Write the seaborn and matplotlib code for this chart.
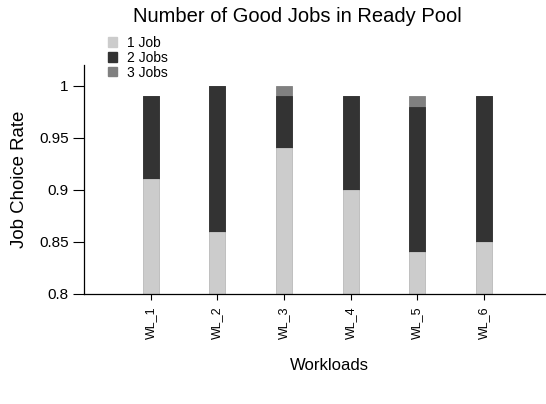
import matplotlib
matplotlib.use("Agg")
import matplotlib.pyplot as plt
from matplotlib.patches import Patch
import seaborn as sns
import pandas as pd

# Job choice rate per workload, split by number of good jobs in the ready pool
workloads = ["WL_1", "WL_2", "WL_3", "WL_4", "WL_5", "WL_6"]
one_job = [0.91, 0.86, 0.94, 0.90, 0.84, 0.85]
two_jobs = [0.08, 0.14, 0.05, 0.09, 0.14, 0.14]
three_jobs = [0.00, 0.00, 0.01, 0.00, 0.01, 0.00]

series_names = ["1 Job", "2 Jobs", "3 Jobs"]
colors = ["#cccccc", "#333333", "#808080"]
ytick_values = [0.8, 0.85, 0.9, 0.95, 1.0]
ytick_labels = ["0.8", "0.85", "0.9", "0.95", "1"]

sns.set_theme(style="ticks")
plt.rcParams["font.family"] = ["Liberation Sans", "DejaVu Sans"]
plt.rcParams.update({
    "text.color": "black",
    "axes.labelcolor": "black",
    "xtick.color": "black",
    "ytick.color": "black",
})

df = pd.DataFrame({
    "workload": workloads,
    "one": one_job,
    "two": two_jobs,
    "three": three_jobs,
})
df["top1"] = df["one"]
df["top2"] = df["one"] + df["two"]
df["top3"] = df["top2"] + df["three"]

fig = plt.figure(figsize=(5.46, 4.04), dpi=100)
ax = fig.add_axes([0.1538, 0.2723, 0.8462, 0.567])

# stacked bars: draw cumulative totals from the top segment down
for col, color in zip(["top3", "top2", "top1"], colors[::-1]):
    sns.barplot(data=df, x="workload", y=col, color=color, width=0.24,
                saturation=1, ax=ax, edgecolor=color, linewidth=0.6)

ax.set_ylim(0.8, 1.02)
ax.set_xlim(-1.0, 5.93)
ax.set_yticks(ytick_values)
ax.set_yticklabels(ytick_labels)
ax.tick_params(axis="y", labelsize=11, length=8, width=0.8, color="black",
               labelcolor="black", pad=3)
ax.tick_params(axis="x", labelsize=9, length=4, width=0.8, color="black",
               labelcolor="black", labelrotation=90, pad=5)
sns.despine(ax=ax, top=True, right=True)
for s in ["left", "bottom"]:
    ax.spines[s].set_color("black")
    ax.spines[s].set_linewidth(0.9)

ax.set_xlabel("")
ax.set_ylabel("Job Choice Rate", fontsize=13.4, color="black")
ax.yaxis.set_label_coords(-0.122, 0.5)
fig.text(0.604, 1 - 365 / 404, "Workloads", fontsize=12, ha="center", va="center",
         color="black")
fig.text(0.544, 1 - 16 / 404, "Number of Good Jobs in Ready Pool", fontsize=14.5,
         ha="center", va="center", color="black")

handles = [Patch(facecolor=c, edgecolor=c, label=n) for n, c in zip(series_names, colors)]
leg = fig.legend(handles=handles, loc="upper left", bbox_to_anchor=(0.198, 0.911),
                 frameon=False, fontsize=10, handlelength=0.65, handleheight=0.65,
                 handletextpad=0.7, labelspacing=0.06, borderaxespad=0, borderpad=0)
for t in leg.get_texts():
    t.set_color("black")

fig.savefig("out.png", dpi=100)
